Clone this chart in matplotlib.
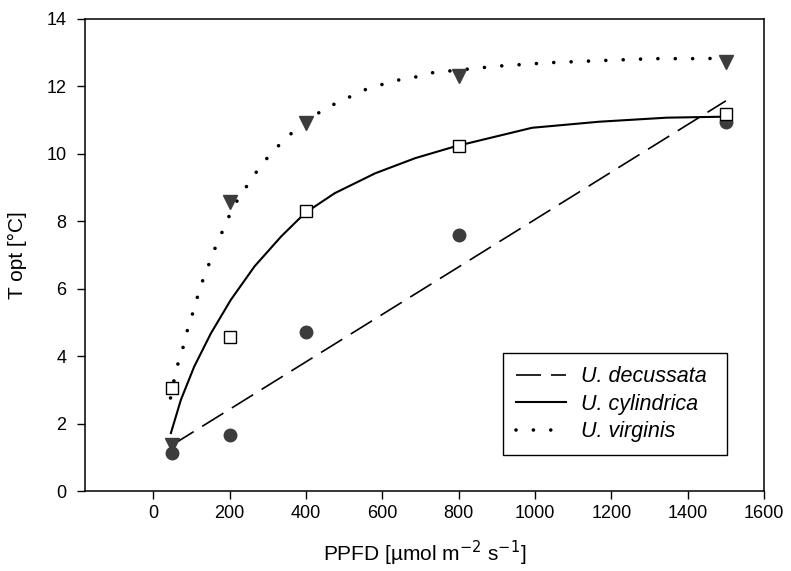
import matplotlib.pyplot as plt
import numpy as np

plt.rcParams['font.family'] = ['Liberation Sans', 'DejaVu Sans']

# measured points
ppfd = [50, 200, 400, 800, 1500]
t_decussata = [1.13, 1.66, 4.72, 7.6, 10.95]
t_cylindrica = [3.06, 4.57, 8.31, 10.24, 11.19]
t_virginis = [1.37, 8.58, 10.92, 12.31, 12.73]

# fitted curves
fit_dec_x = [50, 1500]
fit_dec_y = [1.37, 11.57]

fit_cyl_x = [46, 72, 107, 151, 203, 265, 335, 397, 475, 581, 686, 791, 992, 1168, 1345, 1500]
fit_cyl_y = [1.72, 2.7, 3.69, 4.68, 5.67, 6.66, 7.55, 8.24, 8.83, 9.42, 9.87, 10.22, 10.77, 10.95, 11.07, 11.1]

fit_vir_x = [45, 58, 68, 79, 87, 97, 108, 118, 129, 142, 155, 168, 184, 200, 218, 240, 263, 287,
             318, 350, 418, 453, 487, 521, 555, 589, 624, 660, 695, 729, 832, 905, 1037, 1168, 1308, 1413, 1500]
fit_vir_y = [2.76, 3.5, 3.92, 4.3, 4.69, 5.04, 5.46, 5.85, 6.23, 6.62, 7.0, 7.39, 7.77, 8.19, 8.58, 8.96, 9.35, 9.73,
             10.12, 10.5, 11.1, 11.36, 11.54, 11.72, 11.9, 12.02, 12.14, 12.23, 12.29, 12.4, 12.52, 12.6, 12.7, 12.76, 12.82, 12.82, 12.83]

fig = plt.figure(figsize=(7.91, 5.71), dpi=100)
ax = fig.add_axes([0.107, 0.14, 0.859, 0.827])

mc = '#3c3c3c'
ax.plot(fit_dec_x, fit_dec_y, c='k', lw=1.2, ls=(0, (15, 6)), label='U. decussata')
ax.plot(fit_cyl_x, fit_cyl_y, c='k', lw=1.5, ls='-', label='U. cylindrica')
ax.plot(fit_vir_x, fit_vir_y, c='k', lw=2.6, ls=(0, (0.01, 4.8)), dash_capstyle='round', label='U. virginis')

ax.plot(ppfd, t_decussata, 'o', ms=9, mfc=mc, mec=mc, ls='none', zorder=3)
ax.plot(ppfd, t_cylindrica, 's', ms=8, mfc='white', mec='k', mew=1, ls='none', zorder=3)
ax.plot(ppfd, t_virginis, 'v', ms=9.5, mfc=mc, mec=mc, ls='none', zorder=3)

ax.set_xlim(-180, 1600)
ax.set_ylim(0, 14)
ax.set_xticks(np.arange(0, 1601, 200))
ax.set_yticks(np.arange(0, 15, 2))
ax.tick_params(direction='out', length=6, width=1, labelsize=13)
ax.tick_params(axis='x', pad=4)
ax.tick_params(axis='y', pad=7)
for s in ax.spines.values():
    s.set_linewidth(1.1)

ax.set_xlabel('PPFD [µmol m$^{-2}$ s$^{-1}$]', fontsize=15, labelpad=12)
ax.set_ylabel('T opt [°C]', fontsize=15, labelpad=14)

leg = ax.legend(loc='lower left', bbox_to_anchor=(0.616, 0.076, 0.329, 0.24), mode='expand',
                fontsize=15.5, handlelength=2.3, handletextpad=0.7, labelspacing=0.3,
                borderpad=0.6, borderaxespad=0, fancybox=False, edgecolor='k', framealpha=1)
leg.get_frame().set_linewidth(1)
for t in leg.get_texts():
    t.set_fontstyle('italic')

plt.savefig('out.png', dpi=100)
